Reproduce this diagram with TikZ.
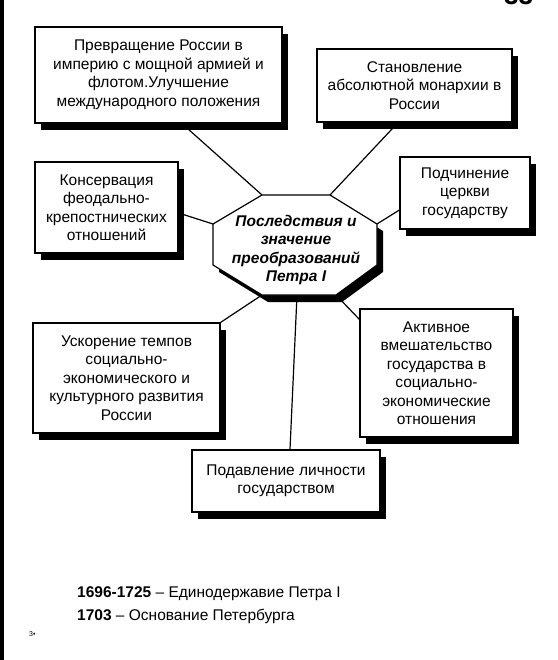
\documentclass[tikz,border=0pt]{standalone}
\usepackage{fontspec}
\setmainfont{Liberation Sans}
\usetikzlibrary{shadows,backgrounds}
\tikzset{
  shbox/.style={draw=black, line width=1.2pt, fill=white, align=center,
    inner sep=0pt, font=\fontsize{15.5}{18.5}\selectfont,
    drop shadow={shadow xshift=6pt, shadow yshift=-7pt, fill=black, opacity=1}},
  octo/.style={draw=black, line width=1.2pt, fill=white,
    drop shadow={shadow xshift=6pt, shadow yshift=-7pt, fill=black, opacity=1}},
  conn/.style={draw=black, line width=1.2pt},
  legend/.style={anchor=base west, inner sep=0pt, font=\fontsize{15.5}{17}\selectfont}
}
\begin{document}
\begin{tikzpicture}[x=1pt, y=-1pt]
\useasboundingbox (0,0) rectangle (557,660);
% scan edge on the left
\fill[black] (0,0) rectangle (4,660);
% page number, cut at the top
\begin{scope}
\clip (0,0) rectangle (557,660);
\node[anchor=base west, inner sep=0pt, font=\fontsize{26}{26}\selectfont\bfseries] (pg) at (504,4.5) {33};
\end{scope}

% boxes
\node[shbox, minimum width=247pt, minimum height=96pt] (b1) at (158.5,75)
  {Превращение России в\\империю с мощной армией и\\флотом.Улучшение\\международного положения};
\node[shbox, minimum width=195pt, minimum height=73pt] (b2) at (414.5,85.5)
  {Становление\\абсолютной монархии в\\России};
\node[shbox, minimum width=143pt, minimum height=91pt] (b3) at (106.5,207.5)
  {Консервация\\феодально-\\крепостнических\\отношений};
\node[shbox, minimum width=130pt, minimum height=72pt] (b4) at (465,193)
  {Подчинение\\церкви\\государству};
\node[shbox, minimum width=187pt, minimum height=110pt] (b5) at (126.5,378)
  {Ускорение темпов\\социально-\\экономического и\\культурного развития\\России};
\node[shbox, minimum width=153pt, minimum height=128pt] (b6) at (436.5,373)
  {Активное\\вмешательство\\государства в\\социально-\\экономические\\отношения};
\node[shbox, minimum width=188pt, minimum height=62pt] (b7) at (286,481)
  {Подавление личности\\государством};

% central octagon
\coordinate (o1) at (262,195);
\coordinate (o2) at (330,195);
\coordinate (o3) at (377,224);
\coordinate (o4) at (377,265);
\coordinate (o5) at (336,295);
\coordinate (o6) at (262,295);
\coordinate (o7) at (213,265);
\coordinate (o8) at (213,224);
\coordinate (ob) at (297,295);
\path[octo] (o1) -- (o2) -- (o3) -- (o4) -- (o5) -- (o6) -- (o7) -- (o8) -- cycle;
\node[align=center, inner sep=0pt, font=\fontsize{15.5}{18.5}\selectfont\bfseries\itshape] (c) at (296,250)
  {Последствия и\\значение\\преобразований\\Петра I};

% connectors
\begin{scope}[on background layer]
\draw[conn] (o1) -- ([xshift=23.5pt]b1.south);
\draw[conn] (o2) -- ([xshift=-16.5pt]b2.south);
\draw[conn] (o8) -- ([yshift=-5.5pt]b3.east);
\draw[conn] (o3) -- ([yshift=-17pt]b4.west);
\draw[conn] (o6) -- (b5.north east);
\draw[conn] (o5) -- ([yshift=-11pt]b6.north west);
\draw[conn] (ob) -- ([xshift=4pt]b7.north);
\end{scope}

% legend
\node[legend] (l1) at (77,597) {\textbf{1696-1725} -- Единодержавие Петра I};
\node[legend] (l2) at (77,620) {\textbf{1703} -- Основание Петербурга};
\node[anchor=base west, inner sep=0pt, font=\fontsize{7}{8}\selectfont] (n3) at (29,636) {3\textbullet};
\end{tikzpicture}
\end{document}
